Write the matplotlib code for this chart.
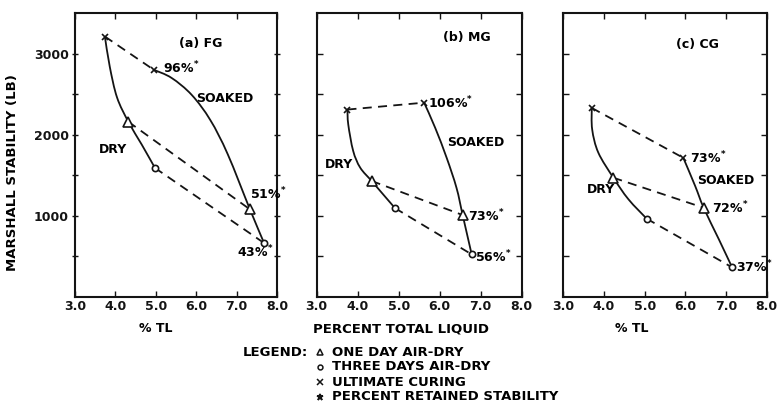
import matplotlib
matplotlib.use('Agg')
import matplotlib.pyplot as plt
import numpy as np
from matplotlib.path import Path
from matplotlib.patches import PathPatch
from matplotlib.ticker import FixedLocator

plt.rcParams['font.family'] = 'DejaVu Sans'
plt.rcParams['font.weight'] = 'bold'

# x axis: percent total liquid
tl_ticks = [3.0, 4.0, 5.0, 6.0, 7.0, 8.0]
tl_labels = ['3.0', '4.0', '5.0', '6.0', '7.0', '8.0']
stab_major = [1000, 2000, 3000]
stab_minor = [500, 1500, 2500]

# (a) FG -- curves
fg_dry_tl = [3.74, 3.86, 4.04, 4.32, 4.65, 4.98]
fg_dry_stab = [3210, 2840, 2460, 2160, 1880, 1590]
fg_soak_tl = [4.95, 5.39, 5.89, 6.35, 6.78, 7.33, 7.68]
fg_soak_stab = [2800, 2700, 2490, 2180, 1760, 1080, 665]
# points: ultimate dry, ultimate soaked, 1-day dry, 1-day soaked, 3-day dry, 3-day soaked
fg_pts_tl = [3.74, 4.95, 4.32, 7.33, 4.98, 7.68]
fg_pts_stab = [3210, 2800, 2160, 1080, 1590, 665]
fg_retained = ['96%', '51%', '43%']

# (b) MG
mg_dry_tl = [3.75, 3.77, 3.89, 4.06, 4.34, 4.62, 4.91]
mg_dry_stab = [2310, 2125, 1800, 1595, 1430, 1265, 1095]
mg_soak_tl = [5.62, 5.89, 6.17, 6.41, 6.56, 6.78]
mg_soak_stab = [2395, 2085, 1715, 1345, 1010, 525]
mg_pts_tl = [3.75, 5.62, 4.34, 6.56, 4.91, 6.78]
mg_pts_stab = [2310, 2395, 1430, 1010, 1095, 525]
mg_retained = ['106%', '73%', '56%']

# (c) CG
cg_dry_tl = [3.70, 3.71, 3.86, 4.23, 4.60, 5.05]
cg_dry_stab = [2330, 2065, 1780, 1470, 1205, 965]
cg_soak_tl = [5.95, 6.24, 6.45, 6.82, 7.15]
cg_soak_stab = [1715, 1370, 1100, 715, 365]
cg_pts_tl = [3.70, 5.95, 4.23, 6.45, 5.05, 7.15]
cg_pts_stab = [2330, 1715, 1470, 1100, 965, 365]
cg_retained = ['73%', '72%', '37%']

legend_items = ['ONE DAY AIR-DRY', 'THREE DAYS AIR-DRY', 'ULTIMATE CURING',
                'PERCENT RETAINED STABILITY']

ink = '#141414'


def smooth_path(xs, ys):
    # Catmull-Rom through the read points, drawn as cubic Bezier segments
    p = np.column_stack([xs, ys]).astype(float)
    p = np.vstack([p[0], p, p[-1]])
    verts = [p[1]]
    codes = [Path.MOVETO]
    for i in range(1, len(p) - 2):
        c1 = p[i] + (p[i+1] - p[i-1]) / 6
        c2 = p[i+1] - (p[i+2] - p[i]) / 6
        verts += [c1, c2, p[i+1]]
        codes += [Path.CURVE4] * 3
    return Path(verts, codes)


panels = [
    dict(title='(a) FG', dry=(fg_dry_tl, fg_dry_stab), soak=(fg_soak_tl, fg_soak_stab),
         pts=(fg_pts_tl, fg_pts_stab), ret=fg_retained,
         ret_pos=[(5.18, 2820), (7.33, 1270), (7.0, 560)],
         title_pos=(6.12, 3120), soak_lbl=(6.01, 2450), dry_lbl=(3.58, 1820),
         rect=[75/783, 1-297/408, 202/783, 284/408]),
    dict(title='(b) MG', dry=(mg_dry_tl, mg_dry_stab), soak=(mg_soak_tl, mg_soak_stab),
         pts=(mg_pts_tl, mg_pts_stab), ret=mg_retained,
         ret_pos=[(5.72, 2390), (6.70, 1000), (6.86, 490)],
         title_pos=(6.65, 3200), soak_lbl=(6.17, 1900), dry_lbl=(3.20, 1635),
         rect=[316.7/783, 1-297/408, 205/783, 284/408]),
    dict(title='(c) CG', dry=(cg_dry_tl, cg_dry_stab), soak=(cg_soak_tl, cg_soak_stab),
         pts=(cg_pts_tl, cg_pts_stab), ret=cg_retained,
         ret_pos=[(6.11, 1715), (6.65, 1100), (7.25, 370)],
         title_pos=(6.29, 3110), soak_lbl=(6.28, 1430), dry_lbl=(3.57, 1330),
         rect=[563.3/783, 1-297/408, 203.4/783, 284/408]),
]

fig = plt.figure(figsize=(7.83, 4.08), dpi=100)

for i, p in enumerate(panels):
    ax = fig.add_axes(p['rect'])
    tl, st = p['pts']

    # solid dry / soaked curves
    for curve in (p['dry'], p['soak']):
        ax.add_patch(PathPatch(smooth_path(*curve), fc='none', ec=ink, lw=1.3))
    # dashed links dry -> soaked
    for j in range(3):
        ax.plot([tl[2*j], tl[2*j+1]], [st[2*j], st[2*j+1]], color=ink, lw=1.3,
                dashes=(5, 3.5))
    # markers
    ax.plot(tl[0:2], st[0:2], 'x', color=ink, ms=4, mew=1.2)
    ax.plot(tl[2:4], st[2:4], '^', mfc='white', mec=ink, ms=7, mew=1.2)
    ax.plot(tl[4:6], st[4:6], 'o', mfc='white', mec=ink, ms=4.5, mew=1.2)

    # labels
    ax.text(*p['title_pos'], p['title'], ha='center', va='center', fontsize=9)
    ax.text(*p['soak_lbl'], 'SOAKED', ha='left', va='center', fontsize=9)
    ax.text(*p['dry_lbl'], 'DRY', ha='left', va='center', fontsize=9)
    for txt, pos in zip(p['ret'], p['ret_pos']):
        ax.text(*pos, txt + r'$^{*}$', ha='left', va='center', fontsize=9)

    ax.set_xlim(3.0, 8.0)
    ax.set_ylim(0, 3500)
    ax.set_xticks(tl_ticks)
    ax.set_xticklabels(tl_labels, fontsize=9, fontweight='bold')
    ax.yaxis.set_major_locator(FixedLocator(stab_major))
    ax.yaxis.set_minor_locator(FixedLocator(stab_minor))
    ax.tick_params(which='both', direction='in', top=True, right=True,
                   length=4, width=1.0, pad=2, colors=ink)
    ax.tick_params(axis='x', labelsize=9)
    if i == 0:
        ax.set_yticklabels(['1000', '2000', '3000'], fontsize=9, fontweight='bold')
        ax.tick_params(axis='y', which='both', direction='inout', length=5)
    else:
        ax.set_yticklabels([])
    for s in ax.spines.values():
        s.set_linewidth(1.5)
        s.set_color(ink)

fig.text(13/783, 1-173/408, 'MARSHALL STABILITY (LB)', rotation=90,
         ha='center', va='center', fontsize=9.5)
fig.text(156/783, 1-329/408, '% TL', ha='center', va='center', fontsize=9)
fig.text(401/783, 1-329/408, 'PERCENT TOTAL LIQUID', ha='center', va='center', fontsize=9.5)
fig.text(632/783, 1-329/408, '% TL', ha='center', va='center', fontsize=9)

# legend block
fig.text(308/783, 1-352/408, 'LEGEND:', ha='right', va='center', fontsize=9.5)
legend_marks = ['^', 'o', 'x', '*']
for k, (mk, txt) in enumerate(zip(legend_marks, legend_items)):
    y = 1 - (352 + 15*k)/408
    fig.lines.append(plt.Line2D([320/783], [y], marker=mk, color=ink,
                                mfc='white' if mk in '^o' else ink,
                                ms=5 if mk != 'o' else 3.5, mew=1.1,
                                transform=fig.transFigure))
    fig.text(332/783, y, txt, ha='left', va='center', fontsize=9.5)

fig.savefig('out.png', dpi=100)
